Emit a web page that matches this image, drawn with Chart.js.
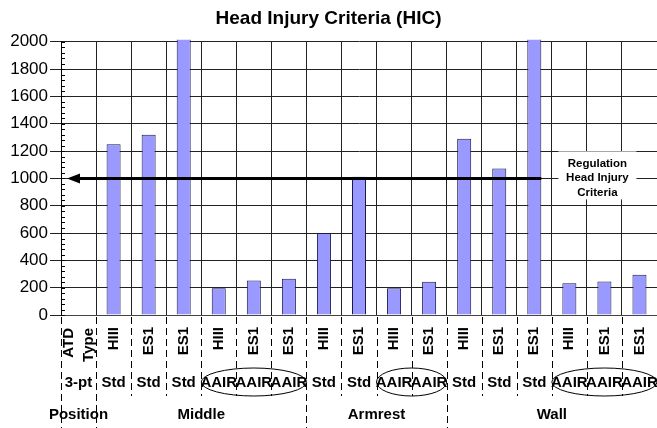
<!DOCTYPE html>
<html>
<head>
<meta charset="utf-8">
<script src="https://cdn.jsdelivr.net/npm/chart.js@4/dist/chart.umd.min.js"></script>
<style>
  html, body { margin: 0; padding: 0; background: #fff; }
</style>
</head>
<body>
<canvas id="chart" width="657" height="428"></canvas>
<script>
// one column per test, first column only carries the row caption
const atdTypes = [["ATD", "Type"], "HIII", "ES1", "ES1", "HIII", "ES1", "ES1",
  "HIII", "ES1", "HIII", "ES1", "HIII", "ES1", "ES1", "HIII", "ES1", "ES1"];
// values above 2000 run off the top of the scale in the original
const hicValues = [null, 1250, 1320, 2500, 195, 252, 265,
  600, 1012, 195, 244, 1290, 1073, 2500, 233, 245, 295];
const restraints = ["3-pt", "Std", "Std", "Std", "AAIR", "AAIR", "AAIR",
  "Std", "Std", "AAIR", "AAIR", "Std", "Std", "Std", "AAIR", "AAIR", "AAIR"];
const positions = ["Position", "Middle", "Armrest", "Wall"];
const positionSpans = [1, 6, 4, 6];
const regulationHic = 1000;
const regulationLabel = ["Regulation", "Head Injury", "Criteria"];

const FONT = "Arial, 'Liberation Sans', sans-serif";

/**
 * Draws the rows under the axis, the dashed separators,
 * the AAIR ellipses and the regulation arrow
 */
const extraRows = {
  id: "extraRows",
  afterDraw(chart) {
    const { ctx, chartArea, scales: { x, y } } = chart;
    const colW = x.getPixelForValue(1) - x.getPixelForValue(0);
    const edge = (i) => x.getPixelForValue(i) - colW / 2;
    const H = chart.height;

    // group boundaries get the long dashes
    const longEdges = [0];
    let acc = 0;
    positionSpans.forEach((s) => {
      acc += s;
      longEdges.push(acc);
    });

    ctx.save();
    ctx.strokeStyle = "#000";
    ctx.lineWidth = 1;
    ctx.setLineDash([7, 4]);
    for (let i = 0; i <= restraints.length; i++) {
      const px = Math.round(edge(i)) + 0.5;
      const bottom = longEdges.includes(i) ? H : 396;
      ctx.beginPath();
      ctx.moveTo(px, chartArea.bottom + 2);
      ctx.lineTo(px, bottom);
      ctx.stroke();
    }
    ctx.setLineDash([]);

    ctx.fillStyle = "#000";
    ctx.font = "bold 15px " + FONT;

    // multi-line caption of the first column, centred on its column
    atdTypes.forEach((t, i) => {
      if (!Array.isArray(t)) return;
      const cx = x.getPixelForValue(i);
      ctx.save();
      ctx.translate(cx - ((t.length - 1) * 20) / 2, 328);
      ctx.rotate(-Math.PI / 2);
      ctx.textAlign = "right";
      ctx.textBaseline = "middle";
      t.forEach((line, j) => {
        ctx.fillText(line, 0, j * 20);
      });
      ctx.restore();
    });

    // restraint row
    ctx.textAlign = "center";
    ctx.textBaseline = "middle";
    restraints.forEach((r, i) => {
      ctx.fillText(r, x.getPixelForValue(i), 383);
    });

    // ellipses round each run of AAIR
    let start = -1;
    for (let i = 0; i <= restraints.length; i++) {
      const isAair = restraints[i] === "AAIR";
      if (isAair && start < 0) start = i;
      if (!isAair && start >= 0) {
        const l = edge(start);
        const r = edge(i);
        ctx.beginPath();
        ctx.ellipse((l + r) / 2, 382, (r - l) / 2, 14, 0, 0, Math.PI * 2);
        ctx.stroke();
        start = -1;
      }
    }

    // position row
    acc = 0;
    positions.forEach((p, i) => {
      const cx = edge(acc) + (positionSpans[i] * colW) / 2;
      ctx.fillText(p, cx, 415);
      acc += positionSpans[i];
    });

    // minor ticks on the value axis
    for (let v = 0; v <= 2000; v += 40) {
      const py = Math.round(y.getPixelForValue(v)) + 0.5;
      ctx.beginPath();
      ctx.moveTo(chartArea.left, py);
      ctx.lineTo(chartArea.left + 4, py);
      ctx.stroke();
    }

    // regulation arrow
    const ry = y.getPixelForValue(regulationHic);
    const tip = chartArea.left + 6;
    ctx.lineWidth = 3;
    ctx.beginPath();
    ctx.moveTo(x.getPixelForValue(13) + 7, ry);
    ctx.lineTo(tip + 10, ry);
    ctx.stroke();
    ctx.beginPath();
    ctx.moveTo(tip, ry);
    ctx.lineTo(tip + 13, ry - 5);
    ctx.lineTo(tip + 13, ry + 5);
    ctx.closePath();
    ctx.fill();

    // label box
    const lx = x.getPixelForValue(15) - 7;
    ctx.fillStyle = "#fff";
    ctx.fillRect(lx - 39, ry - 27, 78, 48);
    ctx.fillStyle = "#000";
    ctx.font = "bold 11.5px " + FONT;
    regulationLabel.forEach((t, i) => {
      ctx.fillText(t, lx, ry - 15 + i * 14.5);
    });
    ctx.restore();
  },
};

new Chart(document.getElementById("chart"), {
  type: "bar",
  data: {
    labels: atdTypes,
    datasets: [
      {
        data: hicValues,
        backgroundColor: "#9999FF",
        borderColor: "#1a1a4d",
        borderWidth: 1,
        categoryPercentage: 1,
        barPercentage: 0.4,
        clip: { left: 0, top: 2, right: 0, bottom: 0 },
      },
    ],
  },
  options: {
    responsive: false,
    animation: false,
    devicePixelRatio: 1,
    layout: { padding: { left: 0, right: 0, top: 0, bottom: 0 } },
    plugins: {
      legend: { display: false },
      tooltip: { enabled: false },
      title: {
        display: true,
        text: "Head Injury Criteria (HIC)",
        color: "#000",
        font: { family: FONT, size: 19, weight: "bold" },
        padding: { top: 7, bottom: 12 },
      },
    },
    scales: {
      x: {
        grid: { color: "#222", offset: true, drawTicks: false },
        border: { color: "#444" },
        ticks: {
          color: "#000",
          font: { family: FONT, size: 15, weight: "bold" },
          minRotation: 90,
          maxRotation: 90,
          autoSkip: false,
          padding: 12,
          // the two-line caption is drawn by the plugin
          callback: (v, i) => (Array.isArray(atdTypes[i]) ? "" : atdTypes[i]),
        },
        afterFit: (s) => {
          s.height = 113;
          s.paddingLeft = 0;
          s.paddingRight = 0;
        },
      },
      y: {
        min: 0,
        max: 2000,
        ticks: {
          stepSize: 200,
          color: "#000",
          font: { family: FONT, size: 17 },
          padding: 2,
          callback: (v) => String(v),
        },
        grid: { color: "#222", tickLength: 11 },
        border: { color: "#000" },
        afterFit: (s) => {
          s.width = 61;
        },
      },
    },
  },
  plugins: [extraRows],
});
</script>
</body>
</html>
